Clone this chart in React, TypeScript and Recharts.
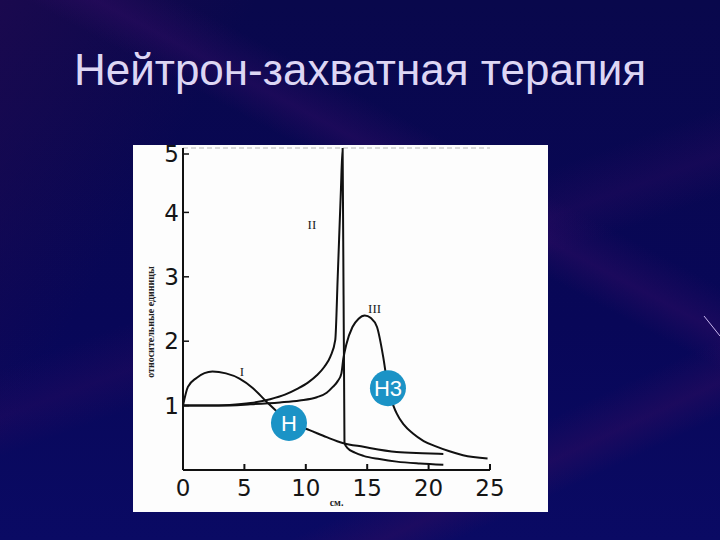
import React from 'react';
import { LineChart, Line, XAxis, YAxis, ReferenceDot, ReferenceLine } from 'recharts';

// depth, cm
const xTicks = [0, 5, 10, 15, 20, 25];
const yTicks = [1, 2, 3, 4, 5];

// curve I
const curveI = [
  { x: 0, y: 1.0 }, { x: 0.4, y: 1.29 }, { x: 1.1, y: 1.43 }, { x: 2.4, y: 1.53 },
  { x: 3.5, y: 1.5 }, { x: 4.6, y: 1.42 }, { x: 5.7, y: 1.27 }, { x: 6.8, y: 1.06 },
  { x: 7.7, y: 0.9 }, { x: 8.6, y: 0.77 }, { x: 9.5, y: 0.68 }, { x: 10.3, y: 0.62 },
  { x: 11.7, y: 0.51 }, { x: 13, y: 0.42 }, { x: 14.7, y: 0.36 }, { x: 17.4, y: 0.28 },
  { x: 19.5, y: 0.26 }, { x: 21.2, y: 0.25 },
];

// curve II
const curveII = [
  { x: 0, y: 1.0 }, { x: 2, y: 1.0 }, { x: 3.8, y: 1.01 }, { x: 5.5, y: 1.04 },
  { x: 7.1, y: 1.1 }, { x: 8.3, y: 1.17 }, { x: 9.3, y: 1.26 }, { x: 10.2, y: 1.36 },
  { x: 10.9, y: 1.47 }, { x: 11.5, y: 1.6 }, { x: 12.0, y: 1.76 }, { x: 12.4, y: 2.02 },
  { x: 12.6, y: 3.0 }, { x: 12.85, y: 4.3 }, { x: 13.0, y: 5.0 }, { x: 13.15, y: 0.42 },
  { x: 13.4, y: 0.34 }, { x: 14, y: 0.27 }, { x: 14.7, y: 0.22 }, { x: 16, y: 0.17 },
  { x: 17.4, y: 0.13 }, { x: 19.3, y: 0.1 }, { x: 21.2, y: 0.08 },
];

// curve III
const curveIII = [
  { x: 0, y: 1.0 }, { x: 3, y: 1.0 }, { x: 5.5, y: 1.02 }, { x: 7.9, y: 1.05 },
  { x: 9.5, y: 1.08 }, { x: 10.9, y: 1.13 }, { x: 11.7, y: 1.2 }, { x: 12.2, y: 1.29 },
  { x: 12.6, y: 1.38 }, { x: 12.9, y: 1.5 }, { x: 13.05, y: 1.72 }, { x: 13.3, y: 1.95 },
  { x: 13.8, y: 2.22 }, { x: 14.3, y: 2.35 }, { x: 14.8, y: 2.4 }, { x: 15.3, y: 2.36 },
  { x: 15.8, y: 2.22 }, { x: 16.3, y: 1.76 }, { x: 16.7, y: 1.27 }, { x: 17.4, y: 0.88 },
  { x: 18.0, y: 0.7 }, { x: 18.7, y: 0.57 }, { x: 19.6, y: 0.45 }, { x: 20.7, y: 0.36 },
  { x: 21.7, y: 0.29 }, { x: 22.8, y: 0.23 }, { x: 24.8, y: 0.18 },
];

const curveLabels = [
  { x: 4.8, y: 1.53, text: 'I' },
  { x: 10.5, y: 3.81, text: 'II' },
  { x: 15.6, y: 2.51, text: 'III' },
];

const badges = [
  { x: 8.63, y: 0.73, text: 'Н' },
  { x: 16.69, y: 1.27, text: 'Н3' },
];

const XTick = (props: any) => {
  const { x, y, payload } = props;
  return (
    <g>
      {payload.value !== 0 && (
        <line x1={x} x2={x} y1={y} y2={y - 6} stroke="#111" strokeWidth={2} />
      )}
      <text x={x} y={y + 26} textAnchor="middle" fontSize={23} fill="#151515" fontFamily="DejaVu Sans">
        {payload.value}
      </text>
    </g>
  );
};

const YTick = (props: any) => {
  const { x, y, payload } = props;
  return (
    <g>
      <line x1={x} x2={x + 6} y1={y} y2={y} stroke="#111" strokeWidth={1.5} />
      <text x={x - 4} y={y} dy="0.36em" textAnchor="end" fontSize={23} fill="#151515" fontFamily="DejaVu Sans">
        {payload.value}
      </text>
    </g>
  );
};

const bg = [
  'linear-gradient(28deg, rgba(0,0,0,0) 0%, rgba(0,0,0,0) 60%, rgba(50,12,100,0.45) 64%, rgba(0,0,0,0) 69%)',
  'linear-gradient(-25deg, rgba(0,0,0,0) 0%, rgba(0,0,0,0) 14%, rgba(50,12,95,0.45) 18%, rgba(0,0,0,0) 23%)',
  'linear-gradient(160deg, rgba(0,0,0,0) 0%, rgba(0,0,0,0) 46%, rgba(45,10,95,0.35) 52%, rgba(0,0,0,0) 57%)',
  'linear-gradient(120deg, rgba(40,10,80,0.55) 0%, rgba(0,0,0,0) 25%)',
  'linear-gradient(180deg, #09084c 0%, #080758 60%, #0a0a64 100%)',
].join(', ');

export default function App() {
  return (
    <div
      style={{
        position: 'absolute',
        left: 0,
        top: 0,
        width: 720,
        height: 540,
        overflow: 'hidden',
        background: bg,
      }}
    >
      <div
        style={{
          position: 'absolute',
          left: 0,
          top: 50,
          width: 720,
          textAlign: 'center',
          fontFamily: '"Liberation Sans", Arial, sans-serif',
          fontSize: 44,
          lineHeight: '40px',
          color: '#ddd6f4',
        }}
      >
        Нейтрон-захватная терапия
      </div>

      <svg style={{ position: 'absolute', left: 690, top: 300 }} width={30} height={50}>
        <line x1={14} y1={16} x2={30} y2={36} stroke="#c8b8f0" strokeWidth={1} />
      </svg>

      <div
        style={{
          position: 'absolute',
          left: 133,
          top: 145,
          width: 415,
          height: 367,
          background: '#fdfdfd',
        }}
      >
        <LineChart
          width={415}
          height={367}
          margin={{ top: 3, right: 58, bottom: 0, left: 0 }}
        >
          <XAxis
            type="number"
            dataKey="x"
            domain={[0, 25]}
            ticks={xTicks}
            allowDataOverflow
            tickSize={0}
            tickMargin={0}
            tick={<XTick />}
            height={42}
            axisLine={{ stroke: '#111', strokeWidth: 2 }}
            label={{
              value: 'см.',
              position: 'insideBottom',
              offset: 6,
              fontSize: 10,
              fontWeight: 'bold',
              fontFamily: '"Liberation Serif", serif',
              fill: '#222',
            }}
          />
          <YAxis
            type="number"
            domain={[0, 5]}
            ticks={yTicks}
            allowDataOverflow
            tickSize={0}
            tickMargin={0}
            tick={<YTick />}
            width={50}
            axisLine={{ stroke: '#111', strokeWidth: 2 }}
          />
          <ReferenceLine y={5} stroke="#b8b8b8" strokeDasharray="5 3" strokeWidth={1} />
          <Line data={curveI} dataKey="y" type="monotone" stroke="#111" strokeWidth={2} dot={false} activeDot={false} isAnimationActive={false} />
          <Line data={curveII} dataKey="y" type="monotone" stroke="#111" strokeWidth={2} dot={false} activeDot={false} isAnimationActive={false} />
          <Line data={curveIII} dataKey="y" type="monotone" stroke="#111" strokeWidth={2} dot={false} activeDot={false} isAnimationActive={false} />
          {curveLabels.map((c) => (
            <ReferenceDot
              key={c.text}
              x={c.x}
              y={c.y}
              r={0}
              fill="none"
              stroke="none"
              label={{
                value: c.text,
                position: 'center',
                fontSize: 13,
                fontFamily: '"Liberation Serif", serif',
                fill: '#222',
              }}
            />
          ))}
          {badges.map((b) => (
            <ReferenceDot
              key={b.text}
              x={b.x}
              y={b.y}
              r={18}
              fill="#1b93c6"
              stroke="none"
              label={{
                value: b.text,
                position: 'center',
                fontSize: 22,
                fontFamily: '"Liberation Sans", Arial, sans-serif',
                fill: '#ffffff',
              }}
            />
          ))}
        </LineChart>
      </div>

      <div
        style={{
          position: 'absolute',
          left: 150,
          top: 322,
          transform: 'translate(-50%, -50%) rotate(-90deg)',
          whiteSpace: 'nowrap',
          fontFamily: '"Liberation Serif", serif',
          fontWeight: 'bold',
          fontSize: 10,
          color: '#222',
        }}
      >
        относительные единицы
      </div>
    </div>
  );
}
